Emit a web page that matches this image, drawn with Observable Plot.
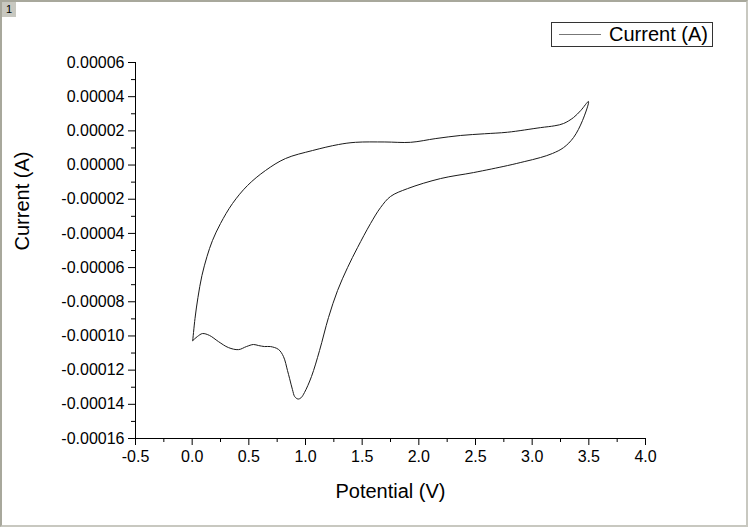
<!DOCTYPE html>
<html>
<head>
<meta charset="utf-8">
<script src="https://cdn.jsdelivr.net/npm/d3@7"></script>
<script src="https://cdn.jsdelivr.net/npm/@observablehq/plot@0.6"></script>
<style>
  html, body { margin: 0; padding: 0; background: #fff; }
  #wrap { position: relative; width: 748px; height: 527px; overflow: hidden; font-family: "Liberation Sans", Arial, sans-serif; }
  #frame { position: absolute; left: 0; top: 0; width: 744px; height: 523px; border-top: 2px solid #a8a89c; border-left: 2px solid #a8a89c; border-right: 2px solid #c8c8c0; border-bottom: 2px solid #c8c8c0; pointer-events: none; }
  #num { position: absolute; left: 2px; top: 2px; width: 14px; height: 15px; background: #c8c8c0; font-size: 11px; line-height: 15px; text-align: center; color: #000; }
  #legend { position: absolute; left: 551px; top: 22px; width: 160px; height: 23px; border: 1px solid #333; background: #fff; }
  #legend .ln { position: absolute; left: 7px; top: 11px; width: 42px; height: 0; border-top: 1px solid #777; }
  #legend .tx { position: absolute; left: 57px; top: 0px; font-size: 20px; line-height: 23px; color: #000; white-space: nowrap; }
</style>
</head>
<body>
<div id="wrap">
  <div id="chart"></div>
  <div id="frame"></div>
  <div id="num">1</div>
  <div id="legend"><div class="ln"></div><div class="tx">Current (A)</div></div>
</div>
<script>
// Potential (V) and Current (A), in loop order
const potential = [
  0.005, 0.025, 0.051, 0.086, 0.131, 0.179, 0.250, 0.356, 0.488, 0.647, 0.823,
  1.062, 1.291, 1.441, 1.700, 1.927, 2.150, 2.368, 2.580, 2.783, 3.074,
  3.200, 3.277, 3.365, 3.430, 3.497,
  3.444, 3.365, 3.277, 3.180, 3.074, 2.930, 2.783, 2.483, 2.192, 1.900,
  1.750, 1.662, 1.574, 1.459, 1.371, 1.283, 1.203, 1.124, 1.053, 0.991,
  0.960, 0.934, 0.905, 0.885, 0.860, 0.841, 0.806, 0.762, 0.691, 0.638,
  0.585, 0.541, 0.479, 0.409, 0.320, 0.232, 0.153, 0.091, 0.047, 0.005
];
const current = [
  -0.0001027, -0.0000898, -0.0000775, -0.0000647, -0.0000535, -0.0000442, -0.0000342, -0.0000225, -0.0000120, -0.0000032, 0.0000038,
  0.0000085, 0.0000120, 0.0000133, 0.0000135, 0.0000133, 0.0000155, 0.0000173, 0.0000183, 0.0000192, 0.0000219,
  0.0000230, 0.0000243, 0.0000278, 0.0000320, 0.0000372,
  0.0000260, 0.0000161, 0.0000102, 0.0000068, 0.0000044, 0.0000020, -0.0000003, -0.0000044, -0.0000079, -0.0000138,
  -0.0000184, -0.0000249, -0.0000342, -0.0000483, -0.0000600, -0.0000734, -0.0000892, -0.0001085, -0.0001237, -0.0001331,
  -0.0001362, -0.0001369, -0.0001355, -0.0001314, -0.0001250, -0.0001202, -0.0001121, -0.0001079, -0.0001062, -0.0001062,
  -0.0001056, -0.0001050, -0.0001062, -0.0001080, -0.0001068, -0.0001033, -0.0000997, -0.0000986, -0.0001003, -0.0001027
];
const xTicks = [-0.5, 0.0, 0.5, 1.0, 1.5, 2.0, 2.5, 3.0, 3.5, 4.0];
const xMinor = [-0.25, 0.25, 0.75, 1.25, 1.75, 2.25, 2.75, 3.25, 3.75];
const yTicks = [0.00006, 0.00004, 0.00002, 0.0, -0.00002, -0.00004, -0.00006, -0.00008, -0.0001, -0.00012, -0.00014, -0.00016];
const yMinor = [0.00005, 0.00003, 0.00001, -0.00001, -0.00003, -0.00005, -0.00007, -0.00009, -0.00011, -0.00013, -0.00015];
const xLabel = "Potential (V)";
const yLabel = "Current (A)";

const data = potential.map((v, k) => ({v, i: current[k]}));

const chart = Plot.plot({
  width: 748,
  height: 527,
  marginLeft: 135,
  marginRight: 103,
  marginTop: 62,
  marginBottom: 89,
  style: {fontFamily: "'Liberation Sans', Arial, sans-serif", fontSize: "16px", background: "transparent", color: "#000"},
  x: {domain: [-0.5, 4.0]},
  y: {domain: [-0.00016, 0.00006]},
  marks: [
    Plot.axisX({ticks: xTicks, tickSize: 7, tickPadding: 5, tickFormat: d => d.toFixed(1), label: null, fontSize: 16}),
    Plot.axisX({ticks: xMinor, tickSize: 4, tickFormat: () => "", label: null}),
    Plot.axisY({ticks: yTicks, tickSize: 7, tickPadding: 4, tickFormat: d => d.toFixed(5), label: null, fontSize: 16}),
    Plot.axisY({ticks: yMinor, tickSize: 4, tickFormat: () => "", label: null}),
    Plot.ruleX([-0.5], {stroke: "#000"}),
    Plot.ruleY([-0.00016], {stroke: "#000"}),
    Plot.line(data, {x: "v", y: "i", stroke: "#1a1a1a", strokeWidth: 1, curve: "catmull-rom"}),
    Plot.text([xLabel], {frameAnchor: "bottom", dy: 53, fontSize: 20, lineAnchor: "middle"}),
    Plot.text([yLabel], {frameAnchor: "left", dx: -113, rotate: -90, fontSize: 20, lineAnchor: "middle"})
  ]
});
document.getElementById("chart").appendChild(chart);
</script>
</body>
</html>
